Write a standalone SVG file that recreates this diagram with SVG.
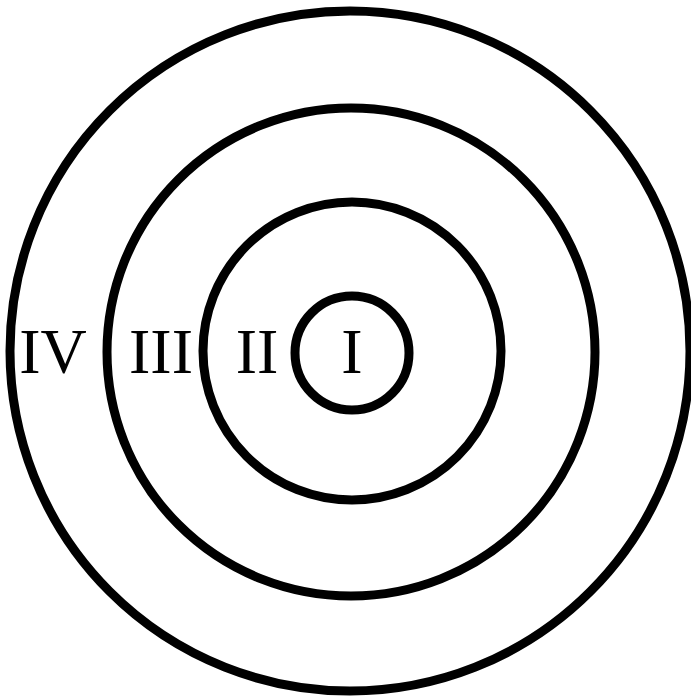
<svg xmlns="http://www.w3.org/2000/svg" width="691" height="697" viewBox="0 0 691 697">
<style>
.ring{fill:none;stroke:#000;stroke-width:9}
.lbl{font-family:"Liberation Serif","Times New Roman",serif;font-size:64px;fill:#000;text-anchor:middle}
</style>
<rect width="691" height="697" fill="#fff"/>
<g id="ring4"><circle class="ring" cx="350" cy="351" r="340"/><text class="lbl" x="53" y="373">IV</text></g>
<g id="ring3"><circle class="ring" cx="351" cy="352" r="244"/><text class="lbl" x="161" y="373">III</text></g>
<g id="ring2"><circle class="ring" cx="352" cy="351" r="149"/><text class="lbl" x="257" y="373">II</text></g>
<g id="ring1"><circle class="ring" cx="352" cy="353" r="57"/><text class="lbl" x="352" y="373">I</text></g>
<g id="connectors"/>
</svg>
